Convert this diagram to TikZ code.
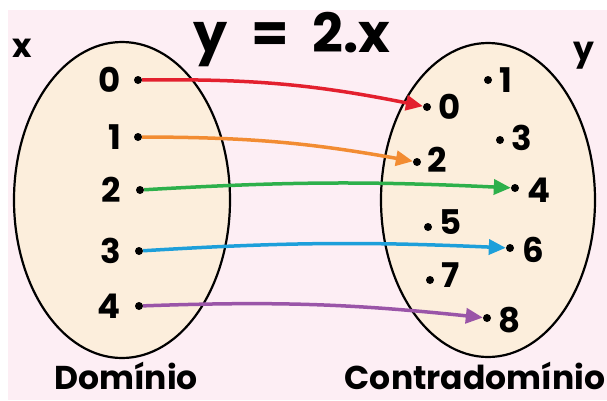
\documentclass[tikz,border=0pt]{standalone}
\usepackage{fontspec}
\setmainfont{Poppins}
\usetikzlibrary{arrows.meta}
\definecolor{bgpink}{HTML}{FDEEF4}
\definecolor{setfill}{HTML}{FCEEDC}
\definecolor{cred}{HTML}{E3202E}
\definecolor{corange}{HTML}{F28C32}
\definecolor{cgreen}{HTML}{2DB04B}
\definecolor{cblue}{HTML}{1D9FDA}
\definecolor{cpurple}{HTML}{9A55A8}
\tikzset{
  setell/.style={draw=black, line width=2.2pt, fill=setfill},
  pt/.style={circle, fill=black, inner sep=0pt, minimum size=8pt},
  num/.style={font=\fontsize{34}{34}\selectfont\bfseries, inner sep=0pt},
  lbl/.style={font=\fontsize{33}{33}\selectfont\bfseries, inner sep=0pt},
  map/.style={line width=3.5pt, -{Triangle[length=17pt,width=15pt]}, shorten >=0pt},
}
\begin{document}
\begin{tikzpicture}[x=1pt,y=-1pt]
\useasboundingbox (0,0) rectangle (607,400);
\fill[white] (0,0) rectangle (607,400);
\fill[bgpink] (8,10) rectangle (607,400);
% sets
\draw[setell] (122,200) ellipse [x radius=108, y radius=158];
\draw[setell] (488,200) ellipse [x radius=107, y radius=157];
% title and labels
\node[font=\fontsize{54}{54}\selectfont\bfseries, inner sep=0pt] (title) at (292,40) {y\hspace{24pt}=\hspace{24pt}2.x};
\node[lbl] (xl) at (22,48) {x};
\node[lbl] (yl) at (584,56) {y};
\node[lbl] (dom) at (126,376) {Domínio};
\node[lbl] (cod) at (475,376) {Contradomínio};
% domain
\node[pt] (a0) at (138,80) {};  \node[num, anchor=east] at (121,80) {0};
\node[pt] (a1) at (138,137) {}; \node[num, anchor=east] at (121,137) {1};
\node[pt] (a2) at (140,190) {}; \node[num, anchor=east] at (121,190) {2};
\node[pt] (a3) at (139,251) {}; \node[num, anchor=east] at (121,251) {3};
\node[pt] (a4) at (139,306) {}; \node[num, anchor=east] at (121,306) {4};
% codomain
\node[pt] (b0) at (427,107) {}; \node[num, anchor=west] at (438,107) {0};
\node[pt] (b1) at (488,80) {};  \node[num, anchor=west] at (499,80) {1};
\node[pt] (b3) at (500,140) {}; \node[num, anchor=west] at (511,138) {3};
\node[pt] (b2) at (417,162) {}; \node[num, anchor=west] at (427,160) {2};
\node[pt] (b4) at (515,188) {}; \node[num, anchor=west] at (527,190) {4};
\node[pt] (b5) at (428,227) {}; \node[num, anchor=west] at (439,222) {5};
\node[pt] (b6) at (510,248) {}; \node[num, anchor=west] at (522,250) {6};
\node[pt] (b7) at (430,280) {}; \node[num, anchor=west] at (441,275) {7};
\node[pt] (b8) at (487,318) {}; \node[num, anchor=west] at (498,320) {8};
% mappings
\draw[map, cred] (a0) to[bend left=6] (b0);
\draw[map, corange] (a1) to[bend left=5] (b2);
\draw[map, cgreen] (a2) to[bend left=3] (b4);
\draw[map, cblue] (a3) to[bend left=3] (b6);
\draw[map, cpurple] (a4) to[bend left=4] (b8);
\end{tikzpicture}
\end{document}
